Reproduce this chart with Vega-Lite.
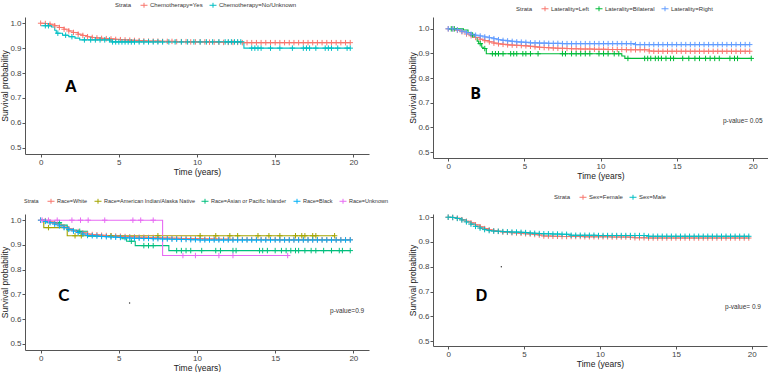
{
  "$schema": "https://vega.github.io/schema/vega-lite/v6.json",
  "padding": {"left": 0, "top": 1, "right": 0, "bottom": 0},
  "background": "white",
  "config": {
    "font": "Liberation Sans",
    "view": {"stroke": null},
    "axis": {"grid": false, "minExtent": 0, "domainColor": "#555", "tickColor": "#555", "tickSize": 3, "labelFontSize": 8, "labelColor": "#444", "labelFont": "Liberation Sans", "titleFont": "Liberation Sans", "titleFontSize": 8.5, "titleFontWeight": "normal", "titleColor": "#222", "labelPadding": 1.5, "titlePadding": 1},
    "axisY": {"labelPadding": 1, "titlePadding": 0},
    "legend": {"orient": "none", "direction": "horizontal", "titleOrient": "left", "titleFontSize": 6, "titleFontWeight": "normal", "titleColor": "#333", "titlePadding": 8, "labelFontSize": 6, "labelColor": "#333", "labelOffset": 2, "columnPadding": 4, "symbolType": "M-1,0H1M0,-0.7V0.7", "symbolSize": 49, "symbolStrokeWidth": 1, "padding": 0}
  },
  "datasets": {
    "A": [
      {"g":"Chemotherapy=Yes","t":0,"s":1},{"g":"Chemotherapy=Yes","t":0.3,"s":0.999},{"g":"Chemotherapy=Yes","t":0.6,"s":0.996},{"g":"Chemotherapy=Yes","t":0.9,"s":0.99},{"g":"Chemotherapy=Yes","t":1.2,"s":0.983},{"g":"Chemotherapy=Yes","t":1.5,"s":0.976},{"g":"Chemotherapy=Yes","t":1.8,"s":0.969},{"g":"Chemotherapy=Yes","t":2.1,"s":0.963},{"g":"Chemotherapy=Yes","t":2.4,"s":0.956},{"g":"Chemotherapy=Yes","t":2.7,"s":0.951},{"g":"Chemotherapy=Yes","t":3.0,"s":0.946},{"g":"Chemotherapy=Yes","t":3.3,"s":0.943},{"g":"Chemotherapy=Yes","t":3.6,"s":0.941},{"g":"Chemotherapy=Yes","t":3.9,"s":0.939},{"g":"Chemotherapy=Yes","t":4.2,"s":0.938},{"g":"Chemotherapy=Yes","t":4.5,"s":0.937},{"g":"Chemotherapy=Yes","t":4.8,"s":0.935},{"g":"Chemotherapy=Yes","t":5.1,"s":0.934},{"g":"Chemotherapy=Yes","t":5.4,"s":0.933},{"g":"Chemotherapy=Yes","t":5.7,"s":0.932},{"g":"Chemotherapy=Yes","t":6.0,"s":0.931},{"g":"Chemotherapy=Yes","t":6.3,"s":0.93},{"g":"Chemotherapy=Yes","t":6.6,"s":0.929},{"g":"Chemotherapy=Yes","t":6.9,"s":0.928},{"g":"Chemotherapy=Yes","t":7.2,"s":0.928},{"g":"Chemotherapy=Yes","t":7.5,"s":0.928},{"g":"Chemotherapy=Yes","t":7.8,"s":0.927},{"g":"Chemotherapy=Yes","t":8.1,"s":0.927},{"g":"Chemotherapy=Yes","t":8.4,"s":0.927},{"g":"Chemotherapy=Yes","t":8.7,"s":0.926},{"g":"Chemotherapy=Yes","t":9.0,"s":0.926},{"g":"Chemotherapy=Yes","t":9.3,"s":0.926},{"g":"Chemotherapy=Yes","t":9.6,"s":0.925},{"g":"Chemotherapy=Yes","t":9.9,"s":0.925},{"g":"Chemotherapy=Yes","t":10.2,"s":0.925},{"g":"Chemotherapy=Yes","t":10.5,"s":0.925},{"g":"Chemotherapy=Yes","t":10.8,"s":0.924},{"g":"Chemotherapy=Yes","t":11.1,"s":0.924},{"g":"Chemotherapy=Yes","t":11.4,"s":0.924},{"g":"Chemotherapy=Yes","t":11.7,"s":0.923},{"g":"Chemotherapy=Yes","t":12.0,"s":0.923},{"g":"Chemotherapy=Yes","t":12.3,"s":0.923},{"g":"Chemotherapy=Yes","t":12.6,"s":0.923},{"g":"Chemotherapy=Yes","t":12.9,"s":0.922},{"g":"Chemotherapy=Yes","t":13.2,"s":0.922},{"g":"Chemotherapy=Yes","t":13.5,"s":0.922},{"g":"Chemotherapy=Yes","t":13.8,"s":0.922},{"g":"Chemotherapy=Yes","t":14.1,"s":0.922},{"g":"Chemotherapy=Yes","t":14.4,"s":0.922},{"g":"Chemotherapy=Yes","t":14.7,"s":0.922},{"g":"Chemotherapy=Yes","t":15.0,"s":0.922},{"g":"Chemotherapy=Yes","t":15.3,"s":0.922},{"g":"Chemotherapy=Yes","t":15.6,"s":0.922},{"g":"Chemotherapy=Yes","t":15.9,"s":0.922},{"g":"Chemotherapy=Yes","t":16.2,"s":0.922},{"g":"Chemotherapy=Yes","t":16.5,"s":0.922},{"g":"Chemotherapy=Yes","t":16.8,"s":0.922},{"g":"Chemotherapy=Yes","t":17.1,"s":0.922},{"g":"Chemotherapy=Yes","t":17.4,"s":0.922},{"g":"Chemotherapy=Yes","t":17.7,"s":0.922},{"g":"Chemotherapy=Yes","t":18.0,"s":0.922},{"g":"Chemotherapy=Yes","t":18.3,"s":0.922},{"g":"Chemotherapy=Yes","t":18.6,"s":0.922},{"g":"Chemotherapy=Yes","t":18.9,"s":0.922},{"g":"Chemotherapy=Yes","t":19.2,"s":0.922},{"g":"Chemotherapy=Yes","t":19.5,"s":0.922},{"g":"Chemotherapy=Yes","t":19.8,"s":0.922},
      {"g":"Chemotherapy=No/Unknown","t":0,"s":0.99,"e":1},{"g":"Chemotherapy=No/Unknown","t":0.3,"s":0.99},{"g":"Chemotherapy=No/Unknown","t":0.5,"s":0.99},{"g":"Chemotherapy=No/Unknown","t":0.7,"s":0.985,"e":1},{"g":"Chemotherapy=No/Unknown","t":0.9,"s":0.972,"e":1},{"g":"Chemotherapy=No/Unknown","t":1.0,"s":0.96,"e":1},{"g":"Chemotherapy=No/Unknown","t":1.1,"s":0.96},{"g":"Chemotherapy=No/Unknown","t":1.4,"s":0.952,"e":1},{"g":"Chemotherapy=No/Unknown","t":1.6,"s":0.952},{"g":"Chemotherapy=No/Unknown","t":1.8,"s":0.946,"e":1},{"g":"Chemotherapy=No/Unknown","t":2.0,"s":0.946},{"g":"Chemotherapy=No/Unknown","t":2.2,"s":0.94,"e":1},{"g":"Chemotherapy=No/Unknown","t":2.5,"s":0.933,"e":1},{"g":"Chemotherapy=No/Unknown","t":2.8,"s":0.933},{"g":"Chemotherapy=No/Unknown","t":3.2,"s":0.933},{"g":"Chemotherapy=No/Unknown","t":3.5,"s":0.933},{"g":"Chemotherapy=No/Unknown","t":3.8,"s":0.933},{"g":"Chemotherapy=No/Unknown","t":4.1,"s":0.933},{"g":"Chemotherapy=No/Unknown","t":4.4,"s":0.933},{"g":"Chemotherapy=No/Unknown","t":4.5,"s":0.925,"e":1},{"g":"Chemotherapy=No/Unknown","t":4.6,"s":0.925},{"g":"Chemotherapy=No/Unknown","t":4.8,"s":0.925},{"g":"Chemotherapy=No/Unknown","t":5.0,"s":0.925},{"g":"Chemotherapy=No/Unknown","t":5.2,"s":0.925},{"g":"Chemotherapy=No/Unknown","t":5.4,"s":0.925},{"g":"Chemotherapy=No/Unknown","t":5.6,"s":0.925},{"g":"Chemotherapy=No/Unknown","t":5.8,"s":0.925},{"g":"Chemotherapy=No/Unknown","t":6.0,"s":0.925},{"g":"Chemotherapy=No/Unknown","t":6.3,"s":0.925},{"g":"Chemotherapy=No/Unknown","t":6.6,"s":0.925},{"g":"Chemotherapy=No/Unknown","t":6.9,"s":0.925},{"g":"Chemotherapy=No/Unknown","t":7.2,"s":0.925},{"g":"Chemotherapy=No/Unknown","t":7.5,"s":0.925},{"g":"Chemotherapy=No/Unknown","t":7.8,"s":0.925},{"g":"Chemotherapy=No/Unknown","t":8.2,"s":0.925},{"g":"Chemotherapy=No/Unknown","t":8.6,"s":0.925},{"g":"Chemotherapy=No/Unknown","t":9.0,"s":0.925},{"g":"Chemotherapy=No/Unknown","t":9.4,"s":0.925},{"g":"Chemotherapy=No/Unknown","t":9.8,"s":0.925},{"g":"Chemotherapy=No/Unknown","t":10.2,"s":0.925},{"g":"Chemotherapy=No/Unknown","t":10.6,"s":0.925},{"g":"Chemotherapy=No/Unknown","t":11.0,"s":0.925},{"g":"Chemotherapy=No/Unknown","t":11.4,"s":0.925},{"g":"Chemotherapy=No/Unknown","t":11.8,"s":0.925},{"g":"Chemotherapy=No/Unknown","t":12.0,"s":0.925},{"g":"Chemotherapy=No/Unknown","t":12.2,"s":0.925},{"g":"Chemotherapy=No/Unknown","t":12.4,"s":0.925},{"g":"Chemotherapy=No/Unknown","t":12.6,"s":0.925},{"g":"Chemotherapy=No/Unknown","t":12.8,"s":0.925},{"g":"Chemotherapy=No/Unknown","t":13.0,"s":0.9,"e":1},{"g":"Chemotherapy=No/Unknown","t":13.5,"s":0.9},{"g":"Chemotherapy=No/Unknown","t":13.7,"s":0.9},{"g":"Chemotherapy=No/Unknown","t":13.9,"s":0.9},{"g":"Chemotherapy=No/Unknown","t":14.1,"s":0.9},{"g":"Chemotherapy=No/Unknown","t":14.7,"s":0.9},{"g":"Chemotherapy=No/Unknown","t":15.3,"s":0.9},{"g":"Chemotherapy=No/Unknown","t":16.1,"s":0.9},{"g":"Chemotherapy=No/Unknown","t":16.8,"s":0.9},{"g":"Chemotherapy=No/Unknown","t":17.0,"s":0.9},{"g":"Chemotherapy=No/Unknown","t":17.2,"s":0.9},{"g":"Chemotherapy=No/Unknown","t":17.6,"s":0.9},{"g":"Chemotherapy=No/Unknown","t":18.2,"s":0.9},{"g":"Chemotherapy=No/Unknown","t":18.4,"s":0.9},{"g":"Chemotherapy=No/Unknown","t":18.6,"s":0.9},{"g":"Chemotherapy=No/Unknown","t":19.0,"s":0.9},{"g":"Chemotherapy=No/Unknown","t":19.6,"s":0.9},{"g":"Chemotherapy=No/Unknown","t":19.8,"s":0.9}
    ],
    "B": [
      {"g":"Laterality=Left","t":0,"s":1},{"g":"Laterality=Left","t":0.3,"s":1},{"g":"Laterality=Left","t":0.6,"s":0.994},{"g":"Laterality=Left","t":0.9,"s":0.988},{"g":"Laterality=Left","t":1.2,"s":0.979},{"g":"Laterality=Left","t":1.5,"s":0.972},{"g":"Laterality=Left","t":1.8,"s":0.965},{"g":"Laterality=Left","t":2.1,"s":0.958},{"g":"Laterality=Left","t":2.4,"s":0.952},{"g":"Laterality=Left","t":2.7,"s":0.947},{"g":"Laterality=Left","t":3.0,"s":0.942},{"g":"Laterality=Left","t":3.3,"s":0.939},{"g":"Laterality=Left","t":3.6,"s":0.937},{"g":"Laterality=Left","t":3.9,"s":0.935},{"g":"Laterality=Left","t":4.2,"s":0.934},{"g":"Laterality=Left","t":4.5,"s":0.933},{"g":"Laterality=Left","t":4.8,"s":0.932},{"g":"Laterality=Left","t":5.1,"s":0.931},{"g":"Laterality=Left","t":5.4,"s":0.929},{"g":"Laterality=Left","t":5.7,"s":0.927},{"g":"Laterality=Left","t":6.0,"s":0.925},{"g":"Laterality=Left","t":6.3,"s":0.924},{"g":"Laterality=Left","t":6.6,"s":0.923},{"g":"Laterality=Left","t":6.9,"s":0.922},{"g":"Laterality=Left","t":7.2,"s":0.921},{"g":"Laterality=Left","t":7.5,"s":0.921},{"g":"Laterality=Left","t":7.8,"s":0.92},{"g":"Laterality=Left","t":8.1,"s":0.919},{"g":"Laterality=Left","t":8.4,"s":0.919},{"g":"Laterality=Left","t":8.7,"s":0.918},{"g":"Laterality=Left","t":9.0,"s":0.918},{"g":"Laterality=Left","t":9.3,"s":0.918},{"g":"Laterality=Left","t":9.6,"s":0.917},{"g":"Laterality=Left","t":9.9,"s":0.917},{"g":"Laterality=Left","t":10.2,"s":0.917},{"g":"Laterality=Left","t":10.5,"s":0.916},{"g":"Laterality=Left","t":10.8,"s":0.916},{"g":"Laterality=Left","t":11.1,"s":0.916},{"g":"Laterality=Left","t":11.4,"s":0.916},{"g":"Laterality=Left","t":11.7,"s":0.915},{"g":"Laterality=Left","t":12.0,"s":0.915},{"g":"Laterality=Left","t":12.3,"s":0.915},{"g":"Laterality=Left","t":12.6,"s":0.915},{"g":"Laterality=Left","t":12.9,"s":0.915},{"g":"Laterality=Left","t":13.2,"s":0.91},{"g":"Laterality=Left","t":13.5,"s":0.909},{"g":"Laterality=Left","t":13.8,"s":0.909},{"g":"Laterality=Left","t":14.1,"s":0.909},{"g":"Laterality=Left","t":14.4,"s":0.909},{"g":"Laterality=Left","t":14.7,"s":0.909},{"g":"Laterality=Left","t":15.0,"s":0.909},{"g":"Laterality=Left","t":15.3,"s":0.909},{"g":"Laterality=Left","t":15.6,"s":0.909},{"g":"Laterality=Left","t":15.9,"s":0.909},{"g":"Laterality=Left","t":16.2,"s":0.909},{"g":"Laterality=Left","t":16.5,"s":0.909},{"g":"Laterality=Left","t":16.8,"s":0.909},{"g":"Laterality=Left","t":17.1,"s":0.909},{"g":"Laterality=Left","t":17.4,"s":0.909},{"g":"Laterality=Left","t":17.7,"s":0.909},{"g":"Laterality=Left","t":18.0,"s":0.909},{"g":"Laterality=Left","t":18.3,"s":0.909},{"g":"Laterality=Left","t":18.6,"s":0.909},{"g":"Laterality=Left","t":18.9,"s":0.909},{"g":"Laterality=Left","t":19.2,"s":0.909},{"g":"Laterality=Left","t":19.5,"s":0.909},{"g":"Laterality=Left","t":19.8,"s":0.909},
      {"g":"Laterality=Bilateral","t":0,"s":1,"e":1},{"g":"Laterality=Bilateral","t":0.2,"s":1},{"g":"Laterality=Bilateral","t":0.4,"s":1},{"g":"Laterality=Bilateral","t":1.0,"s":0.995,"e":1},{"g":"Laterality=Bilateral","t":1.3,"s":0.985,"e":1},{"g":"Laterality=Bilateral","t":1.5,"s":0.975,"e":1},{"g":"Laterality=Bilateral","t":1.6,"s":0.975},{"g":"Laterality=Bilateral","t":1.7,"s":0.965,"e":1},{"g":"Laterality=Bilateral","t":1.9,"s":0.95,"e":1},{"g":"Laterality=Bilateral","t":2.0,"s":0.94,"e":1},{"g":"Laterality=Bilateral","t":2.1,"s":0.94},{"g":"Laterality=Bilateral","t":2.2,"s":0.925,"e":1},{"g":"Laterality=Bilateral","t":2.3,"s":0.92,"e":1},{"g":"Laterality=Bilateral","t":2.4,"s":0.92},{"g":"Laterality=Bilateral","t":2.5,"s":0.899,"e":1},{"g":"Laterality=Bilateral","t":2.9,"s":0.899},{"g":"Laterality=Bilateral","t":3.1,"s":0.899},{"g":"Laterality=Bilateral","t":3.3,"s":0.899},{"g":"Laterality=Bilateral","t":3.6,"s":0.899},{"g":"Laterality=Bilateral","t":4.1,"s":0.899},{"g":"Laterality=Bilateral","t":4.3,"s":0.899},{"g":"Laterality=Bilateral","t":4.5,"s":0.899},{"g":"Laterality=Bilateral","t":4.9,"s":0.899},{"g":"Laterality=Bilateral","t":5.1,"s":0.899},{"g":"Laterality=Bilateral","t":5.4,"s":0.899},{"g":"Laterality=Bilateral","t":5.9,"s":0.899},{"g":"Laterality=Bilateral","t":7.5,"s":0.899},{"g":"Laterality=Bilateral","t":7.7,"s":0.899},{"g":"Laterality=Bilateral","t":8.1,"s":0.899},{"g":"Laterality=Bilateral","t":8.4,"s":0.899},{"g":"Laterality=Bilateral","t":8.7,"s":0.899},{"g":"Laterality=Bilateral","t":9.0,"s":0.899},{"g":"Laterality=Bilateral","t":9.3,"s":0.899},{"g":"Laterality=Bilateral","t":9.9,"s":0.899},{"g":"Laterality=Bilateral","t":10.2,"s":0.899},{"g":"Laterality=Bilateral","t":10.5,"s":0.899},{"g":"Laterality=Bilateral","t":10.9,"s":0.899},{"g":"Laterality=Bilateral","t":11.2,"s":0.899},{"g":"Laterality=Bilateral","t":11.4,"s":0.89,"e":1},{"g":"Laterality=Bilateral","t":11.6,"s":0.88,"e":1},{"g":"Laterality=Bilateral","t":11.8,"s":0.88},{"g":"Laterality=Bilateral","t":12.9,"s":0.88},{"g":"Laterality=Bilateral","t":13.1,"s":0.88},{"g":"Laterality=Bilateral","t":13.3,"s":0.88},{"g":"Laterality=Bilateral","t":13.6,"s":0.88},{"g":"Laterality=Bilateral","t":13.8,"s":0.88},{"g":"Laterality=Bilateral","t":14.0,"s":0.88},{"g":"Laterality=Bilateral","t":14.3,"s":0.88},{"g":"Laterality=Bilateral","t":14.6,"s":0.88},{"g":"Laterality=Bilateral","t":14.8,"s":0.88},{"g":"Laterality=Bilateral","t":15.4,"s":0.88},{"g":"Laterality=Bilateral","t":15.8,"s":0.88},{"g":"Laterality=Bilateral","t":16.2,"s":0.88},{"g":"Laterality=Bilateral","t":16.5,"s":0.88},{"g":"Laterality=Bilateral","t":16.9,"s":0.88},{"g":"Laterality=Bilateral","t":17.2,"s":0.88},{"g":"Laterality=Bilateral","t":17.5,"s":0.88},{"g":"Laterality=Bilateral","t":17.8,"s":0.88},{"g":"Laterality=Bilateral","t":18.5,"s":0.88},{"g":"Laterality=Bilateral","t":18.8,"s":0.88},{"g":"Laterality=Bilateral","t":19.0,"s":0.88},{"g":"Laterality=Bilateral","t":19.9,"s":0.88},
      {"g":"Laterality=Right","t":0,"s":1},{"g":"Laterality=Right","t":0.3,"s":1},{"g":"Laterality=Right","t":0.6,"s":0.996},{"g":"Laterality=Right","t":0.9,"s":0.99},{"g":"Laterality=Right","t":1.2,"s":0.984},{"g":"Laterality=Right","t":1.5,"s":0.978},{"g":"Laterality=Right","t":1.8,"s":0.974},{"g":"Laterality=Right","t":2.1,"s":0.971},{"g":"Laterality=Right","t":2.4,"s":0.967},{"g":"Laterality=Right","t":2.7,"s":0.964},{"g":"Laterality=Right","t":3.0,"s":0.96},{"g":"Laterality=Right","t":3.3,"s":0.956},{"g":"Laterality=Right","t":3.6,"s":0.953},{"g":"Laterality=Right","t":3.9,"s":0.951},{"g":"Laterality=Right","t":4.2,"s":0.949},{"g":"Laterality=Right","t":4.5,"s":0.947},{"g":"Laterality=Right","t":4.8,"s":0.946},{"g":"Laterality=Right","t":5.1,"s":0.945},{"g":"Laterality=Right","t":5.4,"s":0.943},{"g":"Laterality=Right","t":5.7,"s":0.943},{"g":"Laterality=Right","t":6.0,"s":0.942},{"g":"Laterality=Right","t":6.3,"s":0.942},{"g":"Laterality=Right","t":6.6,"s":0.941},{"g":"Laterality=Right","t":6.9,"s":0.941},{"g":"Laterality=Right","t":7.2,"s":0.941},{"g":"Laterality=Right","t":7.5,"s":0.94},{"g":"Laterality=Right","t":7.8,"s":0.94},{"g":"Laterality=Right","t":8.1,"s":0.94},{"g":"Laterality=Right","t":8.4,"s":0.94},{"g":"Laterality=Right","t":8.7,"s":0.94},{"g":"Laterality=Right","t":9.0,"s":0.94},{"g":"Laterality=Right","t":9.3,"s":0.94},{"g":"Laterality=Right","t":9.6,"s":0.94},{"g":"Laterality=Right","t":9.9,"s":0.94},{"g":"Laterality=Right","t":10.2,"s":0.94},{"g":"Laterality=Right","t":10.5,"s":0.94},{"g":"Laterality=Right","t":10.8,"s":0.94},{"g":"Laterality=Right","t":11.1,"s":0.94},{"g":"Laterality=Right","t":11.4,"s":0.94},{"g":"Laterality=Right","t":11.7,"s":0.94},{"g":"Laterality=Right","t":12.0,"s":0.94},{"g":"Laterality=Right","t":12.3,"s":0.936},{"g":"Laterality=Right","t":12.6,"s":0.936},{"g":"Laterality=Right","t":12.9,"s":0.936},{"g":"Laterality=Right","t":13.2,"s":0.936},{"g":"Laterality=Right","t":13.5,"s":0.936},{"g":"Laterality=Right","t":13.8,"s":0.936},{"g":"Laterality=Right","t":14.1,"s":0.936},{"g":"Laterality=Right","t":14.4,"s":0.936},{"g":"Laterality=Right","t":14.7,"s":0.936},{"g":"Laterality=Right","t":15.0,"s":0.936},{"g":"Laterality=Right","t":15.3,"s":0.936},{"g":"Laterality=Right","t":15.6,"s":0.936},{"g":"Laterality=Right","t":15.9,"s":0.936},{"g":"Laterality=Right","t":16.2,"s":0.936},{"g":"Laterality=Right","t":16.5,"s":0.936},{"g":"Laterality=Right","t":16.8,"s":0.936},{"g":"Laterality=Right","t":17.1,"s":0.936},{"g":"Laterality=Right","t":17.4,"s":0.936},{"g":"Laterality=Right","t":17.7,"s":0.936},{"g":"Laterality=Right","t":18.0,"s":0.936},{"g":"Laterality=Right","t":18.3,"s":0.936},{"g":"Laterality=Right","t":18.6,"s":0.936},{"g":"Laterality=Right","t":18.9,"s":0.936},{"g":"Laterality=Right","t":19.2,"s":0.936},{"g":"Laterality=Right","t":19.5,"s":0.936},{"g":"Laterality=Right","t":19.8,"s":0.936}
    ],
    "C": [
      {"g":"Race=White","t":0,"s":1},{"g":"Race=White","t":0.3,"s":0.998},{"g":"Race=White","t":0.6,"s":0.993},{"g":"Race=White","t":0.9,"s":0.987},{"g":"Race=White","t":1.2,"s":0.98},{"g":"Race=White","t":1.5,"s":0.972},{"g":"Race=White","t":1.8,"s":0.965},{"g":"Race=White","t":2.1,"s":0.958},{"g":"Race=White","t":2.4,"s":0.954},{"g":"Race=White","t":2.7,"s":0.949},{"g":"Race=White","t":3.0,"s":0.944},{"g":"Race=White","t":3.3,"s":0.942},{"g":"Race=White","t":3.6,"s":0.941},{"g":"Race=White","t":3.9,"s":0.939},{"g":"Race=White","t":4.2,"s":0.938},{"g":"Race=White","t":4.5,"s":0.937},{"g":"Race=White","t":4.8,"s":0.936},{"g":"Race=White","t":5.1,"s":0.935},{"g":"Race=White","t":5.4,"s":0.934},{"g":"Race=White","t":5.7,"s":0.933},{"g":"Race=White","t":6.0,"s":0.932},{"g":"Race=White","t":6.3,"s":0.931},{"g":"Race=White","t":6.6,"s":0.931},{"g":"Race=White","t":6.9,"s":0.93},{"g":"Race=White","t":7.2,"s":0.93},{"g":"Race=White","t":7.5,"s":0.929},{"g":"Race=White","t":7.8,"s":0.928},{"g":"Race=White","t":8.1,"s":0.928},{"g":"Race=White","t":8.4,"s":0.927},{"g":"Race=White","t":8.7,"s":0.927},{"g":"Race=White","t":9.0,"s":0.926},{"g":"Race=White","t":9.3,"s":0.926},{"g":"Race=White","t":9.6,"s":0.925},{"g":"Race=White","t":9.9,"s":0.925},{"g":"Race=White","t":10.2,"s":0.925},{"g":"Race=White","t":10.5,"s":0.924},{"g":"Race=White","t":10.8,"s":0.924},{"g":"Race=White","t":11.1,"s":0.924},{"g":"Race=White","t":11.4,"s":0.923},{"g":"Race=White","t":11.7,"s":0.923},{"g":"Race=White","t":12.0,"s":0.923},{"g":"Race=White","t":12.3,"s":0.922},{"g":"Race=White","t":12.6,"s":0.922},{"g":"Race=White","t":12.9,"s":0.922},{"g":"Race=White","t":13.2,"s":0.922},{"g":"Race=White","t":13.5,"s":0.922},{"g":"Race=White","t":13.8,"s":0.922},{"g":"Race=White","t":14.1,"s":0.922},{"g":"Race=White","t":14.4,"s":0.922},{"g":"Race=White","t":14.7,"s":0.922},{"g":"Race=White","t":15.0,"s":0.922},{"g":"Race=White","t":15.3,"s":0.921},{"g":"Race=White","t":15.6,"s":0.921},{"g":"Race=White","t":15.9,"s":0.921},{"g":"Race=White","t":16.2,"s":0.921},{"g":"Race=White","t":16.5,"s":0.921},{"g":"Race=White","t":16.8,"s":0.921},{"g":"Race=White","t":17.1,"s":0.921},{"g":"Race=White","t":17.4,"s":0.921},{"g":"Race=White","t":17.7,"s":0.921},{"g":"Race=White","t":18.0,"s":0.921},{"g":"Race=White","t":18.3,"s":0.921},{"g":"Race=White","t":18.6,"s":0.921},{"g":"Race=White","t":18.9,"s":0.921},{"g":"Race=White","t":19.2,"s":0.921},{"g":"Race=White","t":19.5,"s":0.921},{"g":"Race=White","t":19.8,"s":0.921},
      {"g":"Race=American Indian/Alaska Native","t":0,"s":1,"e":1},{"g":"Race=American Indian/Alaska Native","t":0.2,"s":0.97,"e":1},{"g":"Race=American Indian/Alaska Native","t":0.5,"s":0.97},{"g":"Race=American Indian/Alaska Native","t":1.7,"s":0.937,"e":1},{"g":"Race=American Indian/Alaska Native","t":2.2,"s":0.937},{"g":"Race=American Indian/Alaska Native","t":2.6,"s":0.937},{"g":"Race=American Indian/Alaska Native","t":4.5,"s":0.937},{"g":"Race=American Indian/Alaska Native","t":7.5,"s":0.937},{"g":"Race=American Indian/Alaska Native","t":10.2,"s":0.937},{"g":"Race=American Indian/Alaska Native","t":11.2,"s":0.937},{"g":"Race=American Indian/Alaska Native","t":12.1,"s":0.937},{"g":"Race=American Indian/Alaska Native","t":12.6,"s":0.937},{"g":"Race=American Indian/Alaska Native","t":13.9,"s":0.937},{"g":"Race=American Indian/Alaska Native","t":14.6,"s":0.937},{"g":"Race=American Indian/Alaska Native","t":15.3,"s":0.937},{"g":"Race=American Indian/Alaska Native","t":16.3,"s":0.937},{"g":"Race=American Indian/Alaska Native","t":16.7,"s":0.937},{"g":"Race=American Indian/Alaska Native","t":16.9,"s":0.937},{"g":"Race=American Indian/Alaska Native","t":17.4,"s":0.937},{"g":"Race=American Indian/Alaska Native","t":17.6,"s":0.937},{"g":"Race=American Indian/Alaska Native","t":18.8,"s":0.937},
      {"g":"Race=Asian or Pacific Islander","t":0,"s":1,"e":1},{"g":"Race=Asian or Pacific Islander","t":0.4,"s":0.99,"e":1},{"g":"Race=Asian or Pacific Islander","t":1.2,"s":0.99},{"g":"Race=Asian or Pacific Islander","t":1.3,"s":0.98,"e":1},{"g":"Race=Asian or Pacific Islander","t":1.7,"s":0.96,"e":1},{"g":"Race=Asian or Pacific Islander","t":2.3,"s":0.955,"e":1},{"g":"Race=Asian or Pacific Islander","t":2.5,"s":0.955},{"g":"Race=Asian or Pacific Islander","t":3.0,"s":0.935,"e":1},{"g":"Race=Asian or Pacific Islander","t":5.2,"s":0.925,"e":1},{"g":"Race=Asian or Pacific Islander","t":5.5,"s":0.915,"e":1},{"g":"Race=Asian or Pacific Islander","t":5.8,"s":0.915},{"g":"Race=Asian or Pacific Islander","t":6.05,"s":0.897,"e":1},{"g":"Race=Asian or Pacific Islander","t":6.6,"s":0.897},{"g":"Race=Asian or Pacific Islander","t":6.9,"s":0.897},{"g":"Race=Asian or Pacific Islander","t":7.2,"s":0.897},{"g":"Race=Asian or Pacific Islander","t":8.2,"s":0.877,"e":1},{"g":"Race=Asian or Pacific Islander","t":8.7,"s":0.877},{"g":"Race=Asian or Pacific Islander","t":9.0,"s":0.877},{"g":"Race=Asian or Pacific Islander","t":9.3,"s":0.877},{"g":"Race=Asian or Pacific Islander","t":9.6,"s":0.877},{"g":"Race=Asian or Pacific Islander","t":10.3,"s":0.877},{"g":"Race=Asian or Pacific Islander","t":11.2,"s":0.877},{"g":"Race=Asian or Pacific Islander","t":11.5,"s":0.877},{"g":"Race=Asian or Pacific Islander","t":12.3,"s":0.877},{"g":"Race=Asian or Pacific Islander","t":12.5,"s":0.877},{"g":"Race=Asian or Pacific Islander","t":14.0,"s":0.877},{"g":"Race=Asian or Pacific Islander","t":14.2,"s":0.877},{"g":"Race=Asian or Pacific Islander","t":14.5,"s":0.877},{"g":"Race=Asian or Pacific Islander","t":15.0,"s":0.877},{"g":"Race=Asian or Pacific Islander","t":15.4,"s":0.877},{"g":"Race=Asian or Pacific Islander","t":15.7,"s":0.877},{"g":"Race=Asian or Pacific Islander","t":16.0,"s":0.877},{"g":"Race=Asian or Pacific Islander","t":16.3,"s":0.877},{"g":"Race=Asian or Pacific Islander","t":16.5,"s":0.877},{"g":"Race=Asian or Pacific Islander","t":16.9,"s":0.877},{"g":"Race=Asian or Pacific Islander","t":17.3,"s":0.877},{"g":"Race=Asian or Pacific Islander","t":17.6,"s":0.877},{"g":"Race=Asian or Pacific Islander","t":18.1,"s":0.877},{"g":"Race=Asian or Pacific Islander","t":18.6,"s":0.877},{"g":"Race=Asian or Pacific Islander","t":19.1,"s":0.877},{"g":"Race=Asian or Pacific Islander","t":19.3,"s":0.877},{"g":"Race=Asian or Pacific Islander","t":19.8,"s":0.877},
      {"g":"Race=Black","t":0,"s":1},{"g":"Race=Black","t":0.3,"s":0.995},{"g":"Race=Black","t":0.6,"s":0.99},{"g":"Race=Black","t":0.9,"s":0.984},{"g":"Race=Black","t":1.2,"s":0.977},{"g":"Race=Black","t":1.5,"s":0.97},{"g":"Race=Black","t":1.8,"s":0.963},{"g":"Race=Black","t":2.1,"s":0.956},{"g":"Race=Black","t":2.4,"s":0.95},{"g":"Race=Black","t":2.7,"s":0.944},{"g":"Race=Black","t":3.0,"s":0.938},{"g":"Race=Black","t":3.3,"s":0.937},{"g":"Race=Black","t":3.6,"s":0.936},{"g":"Race=Black","t":3.9,"s":0.934},{"g":"Race=Black","t":4.2,"s":0.933},{"g":"Race=Black","t":4.5,"s":0.932},{"g":"Race=Black","t":4.8,"s":0.931},{"g":"Race=Black","t":5.1,"s":0.93},{"g":"Race=Black","t":5.4,"s":0.929},{"g":"Race=Black","t":5.7,"s":0.928},{"g":"Race=Black","t":6.0,"s":0.927},{"g":"Race=Black","t":6.3,"s":0.927},{"g":"Race=Black","t":6.6,"s":0.926},{"g":"Race=Black","t":6.9,"s":0.926},{"g":"Race=Black","t":7.2,"s":0.925},{"g":"Race=Black","t":7.5,"s":0.925},{"g":"Race=Black","t":7.8,"s":0.924},{"g":"Race=Black","t":8.1,"s":0.924},{"g":"Race=Black","t":8.4,"s":0.923},{"g":"Race=Black","t":8.7,"s":0.923},{"g":"Race=Black","t":9.0,"s":0.922},{"g":"Race=Black","t":9.3,"s":0.922},{"g":"Race=Black","t":9.6,"s":0.921},{"g":"Race=Black","t":9.9,"s":0.921},{"g":"Race=Black","t":10.2,"s":0.92},{"g":"Race=Black","t":10.5,"s":0.92},{"g":"Race=Black","t":10.8,"s":0.92},{"g":"Race=Black","t":11.1,"s":0.92},{"g":"Race=Black","t":11.4,"s":0.92},{"g":"Race=Black","t":11.7,"s":0.92},{"g":"Race=Black","t":12.0,"s":0.92},{"g":"Race=Black","t":12.3,"s":0.92},{"g":"Race=Black","t":12.6,"s":0.92},{"g":"Race=Black","t":12.9,"s":0.92},{"g":"Race=Black","t":13.2,"s":0.92},{"g":"Race=Black","t":13.5,"s":0.92},{"g":"Race=Black","t":13.8,"s":0.92},{"g":"Race=Black","t":14.1,"s":0.92},{"g":"Race=Black","t":14.4,"s":0.92},{"g":"Race=Black","t":14.7,"s":0.92},{"g":"Race=Black","t":15.0,"s":0.92},{"g":"Race=Black","t":15.3,"s":0.92},{"g":"Race=Black","t":15.6,"s":0.92},{"g":"Race=Black","t":15.9,"s":0.92},{"g":"Race=Black","t":16.2,"s":0.92},{"g":"Race=Black","t":16.5,"s":0.92},{"g":"Race=Black","t":16.8,"s":0.92},{"g":"Race=Black","t":17.1,"s":0.92},{"g":"Race=Black","t":17.4,"s":0.92},{"g":"Race=Black","t":17.7,"s":0.92},{"g":"Race=Black","t":18.0,"s":0.92},{"g":"Race=Black","t":18.3,"s":0.92},{"g":"Race=Black","t":18.6,"s":0.92},{"g":"Race=Black","t":18.9,"s":0.92},{"g":"Race=Black","t":19.2,"s":0.92},{"g":"Race=Black","t":19.5,"s":0.92},{"g":"Race=Black","t":19.8,"s":0.92},
      {"g":"Race=Unknown","t":0,"s":1,"e":1},{"g":"Race=Unknown","t":0.1,"s":1},{"g":"Race=Unknown","t":0.5,"s":1},{"g":"Race=Unknown","t":1.06,"s":1},{"g":"Race=Unknown","t":2.0,"s":1},{"g":"Race=Unknown","t":2.55,"s":1},{"g":"Race=Unknown","t":3.04,"s":1},{"g":"Race=Unknown","t":4.1,"s":1},{"g":"Race=Unknown","t":5.9,"s":1},{"g":"Race=Unknown","t":6.4,"s":1},{"g":"Race=Unknown","t":7.2,"s":1},{"g":"Race=Unknown","t":7.8,"s":0.857,"e":1},{"g":"Race=Unknown","t":9.1,"s":0.857},{"g":"Race=Unknown","t":9.9,"s":0.857},{"g":"Race=Unknown","t":11.4,"s":0.857},{"g":"Race=Unknown","t":12.3,"s":0.857},{"g":"Race=Unknown","t":15.8,"s":0.857}
    ],
    "D": [
      {"g":"Sex=Female","t":0,"s":1},{"g":"Sex=Female","t":0.3,"s":0.999},{"g":"Sex=Female","t":0.6,"s":0.996},{"g":"Sex=Female","t":0.9,"s":0.99},{"g":"Sex=Female","t":1.2,"s":0.984},{"g":"Sex=Female","t":1.5,"s":0.977},{"g":"Sex=Female","t":1.8,"s":0.969},{"g":"Sex=Female","t":2.1,"s":0.961},{"g":"Sex=Female","t":2.4,"s":0.954},{"g":"Sex=Female","t":2.7,"s":0.949},{"g":"Sex=Female","t":3.0,"s":0.945},{"g":"Sex=Female","t":3.3,"s":0.943},{"g":"Sex=Female","t":3.6,"s":0.94},{"g":"Sex=Female","t":3.9,"s":0.939},{"g":"Sex=Female","t":4.2,"s":0.937},{"g":"Sex=Female","t":4.5,"s":0.936},{"g":"Sex=Female","t":4.8,"s":0.935},{"g":"Sex=Female","t":5.1,"s":0.933},{"g":"Sex=Female","t":5.4,"s":0.932},{"g":"Sex=Female","t":5.7,"s":0.93},{"g":"Sex=Female","t":6.0,"s":0.928},{"g":"Sex=Female","t":6.3,"s":0.924},{"g":"Sex=Female","t":6.6,"s":0.924},{"g":"Sex=Female","t":6.9,"s":0.923},{"g":"Sex=Female","t":7.2,"s":0.923},{"g":"Sex=Female","t":7.5,"s":0.922},{"g":"Sex=Female","t":7.8,"s":0.922},{"g":"Sex=Female","t":8.1,"s":0.922},{"g":"Sex=Female","t":8.4,"s":0.922},{"g":"Sex=Female","t":8.7,"s":0.922},{"g":"Sex=Female","t":9.0,"s":0.921},{"g":"Sex=Female","t":9.3,"s":0.921},{"g":"Sex=Female","t":9.6,"s":0.921},{"g":"Sex=Female","t":9.9,"s":0.921},{"g":"Sex=Female","t":10.2,"s":0.921},{"g":"Sex=Female","t":10.5,"s":0.921},{"g":"Sex=Female","t":10.8,"s":0.92},{"g":"Sex=Female","t":11.1,"s":0.92},{"g":"Sex=Female","t":11.4,"s":0.92},{"g":"Sex=Female","t":11.7,"s":0.92},{"g":"Sex=Female","t":12.0,"s":0.919},{"g":"Sex=Female","t":12.3,"s":0.917},{"g":"Sex=Female","t":12.6,"s":0.917},{"g":"Sex=Female","t":12.9,"s":0.917},{"g":"Sex=Female","t":13.2,"s":0.916},{"g":"Sex=Female","t":13.5,"s":0.916},{"g":"Sex=Female","t":13.8,"s":0.916},{"g":"Sex=Female","t":14.1,"s":0.916},{"g":"Sex=Female","t":14.4,"s":0.916},{"g":"Sex=Female","t":14.7,"s":0.916},{"g":"Sex=Female","t":15.0,"s":0.916},{"g":"Sex=Female","t":15.3,"s":0.916},{"g":"Sex=Female","t":15.6,"s":0.916},{"g":"Sex=Female","t":15.9,"s":0.916},{"g":"Sex=Female","t":16.2,"s":0.916},{"g":"Sex=Female","t":16.5,"s":0.916},{"g":"Sex=Female","t":16.8,"s":0.916},{"g":"Sex=Female","t":17.1,"s":0.916},{"g":"Sex=Female","t":17.4,"s":0.916},{"g":"Sex=Female","t":17.7,"s":0.916},{"g":"Sex=Female","t":18.0,"s":0.916},{"g":"Sex=Female","t":18.3,"s":0.916},{"g":"Sex=Female","t":18.6,"s":0.916},{"g":"Sex=Female","t":18.9,"s":0.916},{"g":"Sex=Female","t":19.2,"s":0.916},{"g":"Sex=Female","t":19.5,"s":0.916},{"g":"Sex=Female","t":19.8,"s":0.916},
      {"g":"Sex=Male","t":0,"s":1},{"g":"Sex=Male","t":0.3,"s":0.999},{"g":"Sex=Male","t":0.6,"s":0.995},{"g":"Sex=Male","t":0.9,"s":0.989},{"g":"Sex=Male","t":1.2,"s":0.981},{"g":"Sex=Male","t":1.5,"s":0.972},{"g":"Sex=Male","t":1.8,"s":0.963},{"g":"Sex=Male","t":2.1,"s":0.956},{"g":"Sex=Male","t":2.4,"s":0.95},{"g":"Sex=Male","t":2.7,"s":0.946},{"g":"Sex=Male","t":3.0,"s":0.944},{"g":"Sex=Male","t":3.3,"s":0.943},{"g":"Sex=Male","t":3.6,"s":0.942},{"g":"Sex=Male","t":3.9,"s":0.941},{"g":"Sex=Male","t":4.2,"s":0.94},{"g":"Sex=Male","t":4.5,"s":0.94},{"g":"Sex=Male","t":4.8,"s":0.939},{"g":"Sex=Male","t":5.1,"s":0.938},{"g":"Sex=Male","t":5.4,"s":0.936},{"g":"Sex=Male","t":5.7,"s":0.935},{"g":"Sex=Male","t":6.0,"s":0.934},{"g":"Sex=Male","t":6.3,"s":0.933},{"g":"Sex=Male","t":6.6,"s":0.933},{"g":"Sex=Male","t":6.9,"s":0.932},{"g":"Sex=Male","t":7.2,"s":0.932},{"g":"Sex=Male","t":7.5,"s":0.931},{"g":"Sex=Male","t":7.8,"s":0.931},{"g":"Sex=Male","t":8.1,"s":0.927},{"g":"Sex=Male","t":8.4,"s":0.927},{"g":"Sex=Male","t":8.7,"s":0.927},{"g":"Sex=Male","t":9.0,"s":0.927},{"g":"Sex=Male","t":9.3,"s":0.927},{"g":"Sex=Male","t":9.6,"s":0.927},{"g":"Sex=Male","t":9.9,"s":0.926},{"g":"Sex=Male","t":10.2,"s":0.926},{"g":"Sex=Male","t":10.5,"s":0.926},{"g":"Sex=Male","t":10.8,"s":0.926},{"g":"Sex=Male","t":11.1,"s":0.926},{"g":"Sex=Male","t":11.4,"s":0.926},{"g":"Sex=Male","t":11.7,"s":0.926},{"g":"Sex=Male","t":12.0,"s":0.926},{"g":"Sex=Male","t":12.3,"s":0.926},{"g":"Sex=Male","t":12.6,"s":0.926},{"g":"Sex=Male","t":12.9,"s":0.926},{"g":"Sex=Male","t":13.2,"s":0.923},{"g":"Sex=Male","t":13.5,"s":0.923},{"g":"Sex=Male","t":13.8,"s":0.923},{"g":"Sex=Male","t":14.1,"s":0.923},{"g":"Sex=Male","t":14.4,"s":0.923},{"g":"Sex=Male","t":14.7,"s":0.923},{"g":"Sex=Male","t":15.0,"s":0.923},{"g":"Sex=Male","t":15.3,"s":0.923},{"g":"Sex=Male","t":15.6,"s":0.923},{"g":"Sex=Male","t":15.9,"s":0.923},{"g":"Sex=Male","t":16.2,"s":0.923},{"g":"Sex=Male","t":16.5,"s":0.923},{"g":"Sex=Male","t":16.8,"s":0.923},{"g":"Sex=Male","t":17.1,"s":0.923},{"g":"Sex=Male","t":17.4,"s":0.923},{"g":"Sex=Male","t":17.7,"s":0.923},{"g":"Sex=Male","t":18.0,"s":0.923},{"g":"Sex=Male","t":18.3,"s":0.923},{"g":"Sex=Male","t":18.6,"s":0.923},{"g":"Sex=Male","t":18.9,"s":0.923},{"g":"Sex=Male","t":19.2,"s":0.923},{"g":"Sex=Male","t":19.5,"s":0.923},{"g":"Sex=Male","t":19.8,"s":0.923}
    ]
  },
  "bounds": "flush",
  "columns": 2,
  "spacing": {"row": 56, "column": 64},
  "resolve": {"scale": {"color": "independent"}, "legend": {"color": "independent"}},
  "concat": [
    {
      "width": 344, "height": 137,
      "data": {"name": "A"},
      "encoding": {
        "x": {"field": "t", "type": "quantitative", "scale": {"domain": [-1, 21], "nice": false, "zero": false}, "axis": {"title": "Time (years)", "values": [0, 5, 10, 15, 20]}},
        "y": {"field": "s", "type": "quantitative", "scale": {"domain": [0.475, 1.025], "nice": false, "zero": false}, "axis": {"title": "Survival probability", "values": [0.5, 0.6, 0.7, 0.8, 0.9, 1.0], "format": ".1f"}}
      },
      "layer": [
        {"mark": {"type": "line", "interpolate": "step-after", "strokeWidth": 1.1},
         "encoding": {"color": {"field": "g", "type": "nominal", "scale": {"domain": ["Chemotherapy=Yes", "Chemotherapy=No/Unknown"], "range": ["#F8766D", "#00BFC4"]}, "legend": {"title": "Strata", "legendX": 90, "legendY": -16}}}},
        {"transform": [{"filter": "!datum.e"}],
         "mark": {"type": "point", "shape": "M-1,0H1M0,-1V1", "filled": false, "size": 30, "strokeWidth": 1, "opacity": 1},
         "encoding": {"color": {"field": "g", "type": "nominal", "scale": {"domain": ["Chemotherapy=Yes", "Chemotherapy=No/Unknown"], "range": ["#F8766D", "#00BFC4"]}, "legend": {"title": "Strata", "legendX": 90, "legendY": -16}}}},
        {"data": {"values": [{"t": 1.93, "s": 0.743, "label": "A"}]},
         "mark": {"type": "text", "fontSize": 17, "fontWeight": "bold", "font": "Liberation Sans", "color": "black"},
         "encoding": {"text": {"field": "label"}}}
      ]
    },
    {
      "width": 335, "height": 141,
      "data": {"name": "B"},
      "encoding": {
        "x": {"field": "t", "type": "quantitative", "scale": {"domain": [-1, 21], "nice": false, "zero": false}, "axis": {"title": "Time (years)", "values": [0, 5, 10, 15, 20]}},
        "y": {"field": "s", "type": "quantitative", "scale": {"domain": [0.476, 1.048], "nice": false, "zero": false}, "axis": {"title": "Survival probability", "values": [0.5, 0.6, 0.7, 0.8, 0.9, 1.0], "format": ".1f"}}
      },
      "layer": [
        {"mark": {"type": "line", "interpolate": "step-after", "strokeWidth": 1.1},
         "encoding": {"color": {"field": "g", "type": "nominal", "scale": {"domain": ["Laterality=Left", "Laterality=Bilateral", "Laterality=Right"], "range": ["#F8766D", "#00BA38", "#619CFF"]}, "legend": {"title": "Strata", "legendX": 83, "legendY": -12.5}}}},
        {"transform": [{"filter": "!datum.e"}],
         "mark": {"type": "point", "shape": "M-1,0H1M0,-1V1", "filled": false, "size": 30, "strokeWidth": 1, "opacity": 1},
         "encoding": {"color": {"field": "g", "type": "nominal", "scale": {"domain": ["Laterality=Left", "Laterality=Bilateral", "Laterality=Right"], "range": ["#F8766D", "#00BA38", "#619CFF"]}, "legend": {"title": "Strata", "legendX": 83, "legendY": -12.5}}}},
        {"data": {"values": [{"t": 1.8, "s": 0.737, "label": "B"}]},
         "mark": {"type": "text", "fontSize": 16, "fontWeight": "bold", "font": "Open Sans", "color": "black"},
         "encoding": {"text": {"field": "label"}}},
        {"data": {"values": [{"t": 19.34, "s": 0.628, "label": "p-value= 0.05"}]},
         "mark": {"type": "text", "fontSize": 6.5, "font": "Liberation Sans", "color": "#333"},
         "encoding": {"text": {"field": "label"}}}
      ]
    },
    {
      "width": 344, "height": 136,
      "data": {"name": "C"},
      "encoding": {
        "x": {"field": "t", "type": "quantitative", "scale": {"domain": [-1, 21], "nice": false, "zero": false}, "axis": {"title": "Time (years)", "values": [0, 5, 10, 15, 20]}},
        "y": {"field": "s", "type": "quantitative", "scale": {"domain": [0.475, 1.025], "nice": false, "zero": false}, "axis": {"title": "Survival probability", "values": [0.5, 0.6, 0.7, 0.8, 0.9, 1.0], "format": ".1f"}}
      },
      "layer": [
        {"mark": {"type": "line", "interpolate": "step-after", "strokeWidth": 1.1},
         "encoding": {"color": {"field": "g", "type": "nominal", "scale": {"domain": ["Race=White", "Race=American Indian/Alaska Native", "Race=Asian or Pacific Islander", "Race=Black", "Race=Unknown"], "range": ["#F8766D", "#A3A500", "#00BF7D", "#00B0F6", "#E76BF3"]}, "legend": {"title": "Strata", "legendX": -1, "legendY": -17, "labelFontSize": 5.5, "titleFontSize": 5.5}}}},
        {"transform": [{"filter": "!datum.e"}],
         "mark": {"type": "point", "shape": "M-1,0H1M0,-1V1", "filled": false, "size": 30, "strokeWidth": 1, "opacity": 1},
         "encoding": {"color": {"field": "g", "type": "nominal", "scale": {"domain": ["Race=White", "Race=American Indian/Alaska Native", "Race=Asian or Pacific Islander", "Race=Black", "Race=Unknown"], "range": ["#F8766D", "#A3A500", "#00BF7D", "#00B0F6", "#E76BF3"]}, "legend": {"title": "Strata", "legendX": -1, "legendY": -17, "labelFontSize": 5.5, "titleFontSize": 5.5}}}},
        {"data": {"values": [{"t": 1.48, "s": 0.695, "label": "C"}]},
         "mark": {"type": "text", "fontSize": 17, "fontWeight": "bold", "font": "Lato", "color": "black"},
         "encoding": {"text": {"field": "label"}}},
        {"data": {"values": [{"t": 19.6, "s": 0.631, "label": "p-value=0.9"}]},
         "mark": {"type": "text", "fontSize": 6.5, "font": "Liberation Sans", "color": "#333"},
         "encoding": {"text": {"field": "label"}}},
        {"data": {"values": [{"t": 5.69, "s": 0.665}]},
         "mark": {"type": "point", "filled": true, "size": 2, "color": "#333", "opacity": 1}}
      ]
    },
    {
      "width": 334, "height": 132,
      "data": {"name": "D"},
      "encoding": {
        "x": {"field": "t", "type": "quantitative", "scale": {"domain": [-1, 21], "nice": false, "zero": false}, "axis": {"title": "Time (years)", "values": [0, 5, 10, 15, 20]}},
        "y": {"field": "s", "type": "quantitative", "scale": {"domain": [0.48, 1.013], "nice": false, "zero": false}, "axis": {"title": "Survival probability", "values": [0.5, 0.6, 0.7, 0.8, 0.9, 1.0], "format": ".1f"}}
      },
      "layer": [
        {"mark": {"type": "line", "interpolate": "step-after", "strokeWidth": 1.1},
         "encoding": {"color": {"field": "g", "type": "nominal", "scale": {"domain": ["Sex=Female", "Sex=Male"], "range": ["#F8766D", "#00BFC4"]}, "legend": {"title": "Strata", "legendX": 121, "legendY": -21}}}},
        {"transform": [{"filter": "!datum.e"}],
         "mark": {"type": "point", "shape": "M-1,0H1M0,-1V1", "filled": false, "size": 30, "strokeWidth": 1, "opacity": 1},
         "encoding": {"color": {"field": "g", "type": "nominal", "scale": {"domain": ["Sex=Female", "Sex=Male"], "range": ["#F8766D", "#00BFC4"]}, "legend": {"title": "Strata", "legendX": 121, "legendY": -21}}}},
        {"data": {"values": [{"t": 2.19, "s": 0.68, "label": "D"}]},
         "mark": {"type": "text", "fontSize": 16, "fontWeight": "bold", "font": "Liberation Sans", "color": "black"},
         "encoding": {"text": {"field": "label"}}},
        {"data": {"values": [{"t": 19.42, "s": 0.639, "label": "p-value= 0.9"}]},
         "mark": {"type": "text", "fontSize": 6.5, "font": "Liberation Sans", "color": "#333"},
         "encoding": {"text": {"field": "label"}}},
        {"data": {"values": [{"t": 3.5, "s": 0.8}]},
         "mark": {"type": "point", "filled": true, "size": 2, "color": "#333", "opacity": 1}}
      ]
    }
  ]
}
